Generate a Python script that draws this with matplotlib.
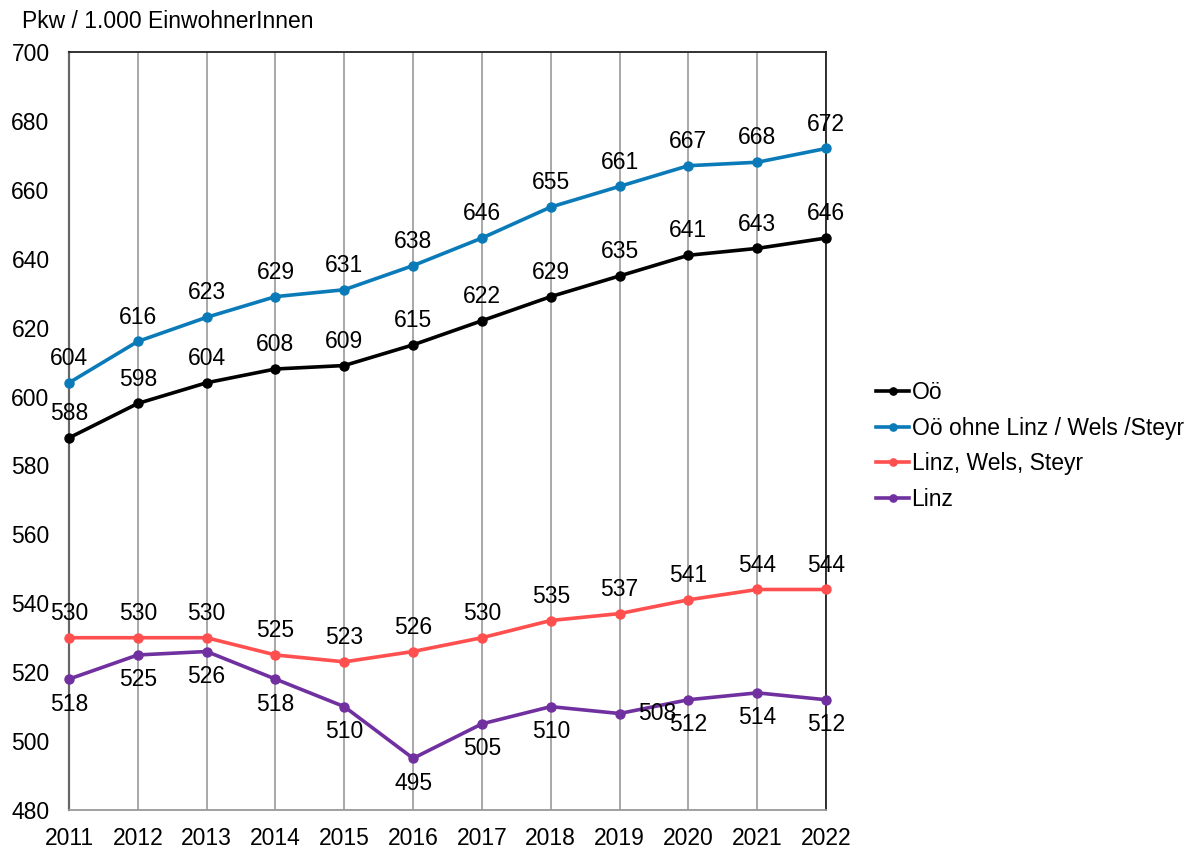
import matplotlib
matplotlib.use("Agg")
import matplotlib.pyplot as plt

years = [2011, 2012, 2013, 2014, 2015, 2016, 2017, 2018, 2019, 2020, 2021, 2022]
ooe = [588, 598, 604, 608, 609, 615, 622, 629, 635, 641, 643, 646]
ooe_ohne = [604, 616, 623, 629, 631, 638, 646, 655, 661, 667, 668, 672]
lws = [530, 530, 530, 525, 523, 526, 530, 535, 537, 541, 544, 544]
linz = [518, 525, 526, 518, 510, 495, 505, 510, 508, 512, 514, 512]
names = ["Oö", "Oö ohne Linz / Wels /Steyr", "Linz, Wels, Steyr", "Linz"]
colors = ["#000000", "#0a7bb8", "#ff4f4f", "#7030a0"]
yticks = [480, 500, 520, 540, 560, 580, 600, 620, 640, 660, 680, 700]

plt.rcParams['font.family'] = ['Liberation Sans', 'DejaVu Sans']
fig = plt.figure(figsize=(12.01, 8.51), dpi=100)
ax = fig.add_axes([69/1201, 1-810/851, (826-69)/1201, (810-52)/851])

series = [ooe, ooe_ohne, lws, linz]
fs = 16.5
for vals, name, c in zip(series, names, colors):
    ax.plot(years, vals, color=c, lw=2.6, marker='o', ms=6.5, label=name, zorder=3, clip_on=False)

for vals in [ooe, ooe_ohne, lws]:
    for x, v in zip(years, vals):
        ax.annotate(str(v), (x, v), xytext=(0, 17.5), textcoords='offset points',
                    ha='center', va='center', fontsize=fs)
for x, v in zip(years, linz):
    off = (27, 0) if x == 2019 else (0, -18)
    ax.annotate(str(v), (x, v), xytext=off, textcoords='offset points',
                ha='center', va='center', fontsize=fs)

ax.set_xlim(2011, 2022)
ax.set_ylim(480, 700)
ax.set_yticks(yticks)
ax.set_xticks(years)
ax.tick_params(axis='both', length=0, labelsize=fs)
ax.tick_params(axis='y', pad=14)
ax.tick_params(axis='x', pad=12)
ax.grid(axis='x', color='#999999', lw=1.2, zorder=0)
for s in ['top', 'right']:
    ax.spines[s].set_color('#222222')
    ax.spines[s].set_linewidth(1.3)
ax.spines['left'].set_color('#666666')
ax.spines['left'].set_linewidth(1.6)
ax.spines['bottom'].set_color('#999999')
ax.spines['bottom'].set_linewidth(1.3)

fig.text(22/1201, 1-22/851, "Pkw / 1.000 EinwohnerInnen", fontsize=fs, va='center', ha='left')

leg = fig.legend(loc='center left', bbox_to_anchor=(876/1201, 1-446/851), frameon=False,
                 fontsize=fs, handlelength=1.45, handletextpad=0.1, labelspacing=0.55,
                 borderpad=0, borderaxespad=0, markerscale=0.8)

fig.savefig("out.png", dpi=100)
